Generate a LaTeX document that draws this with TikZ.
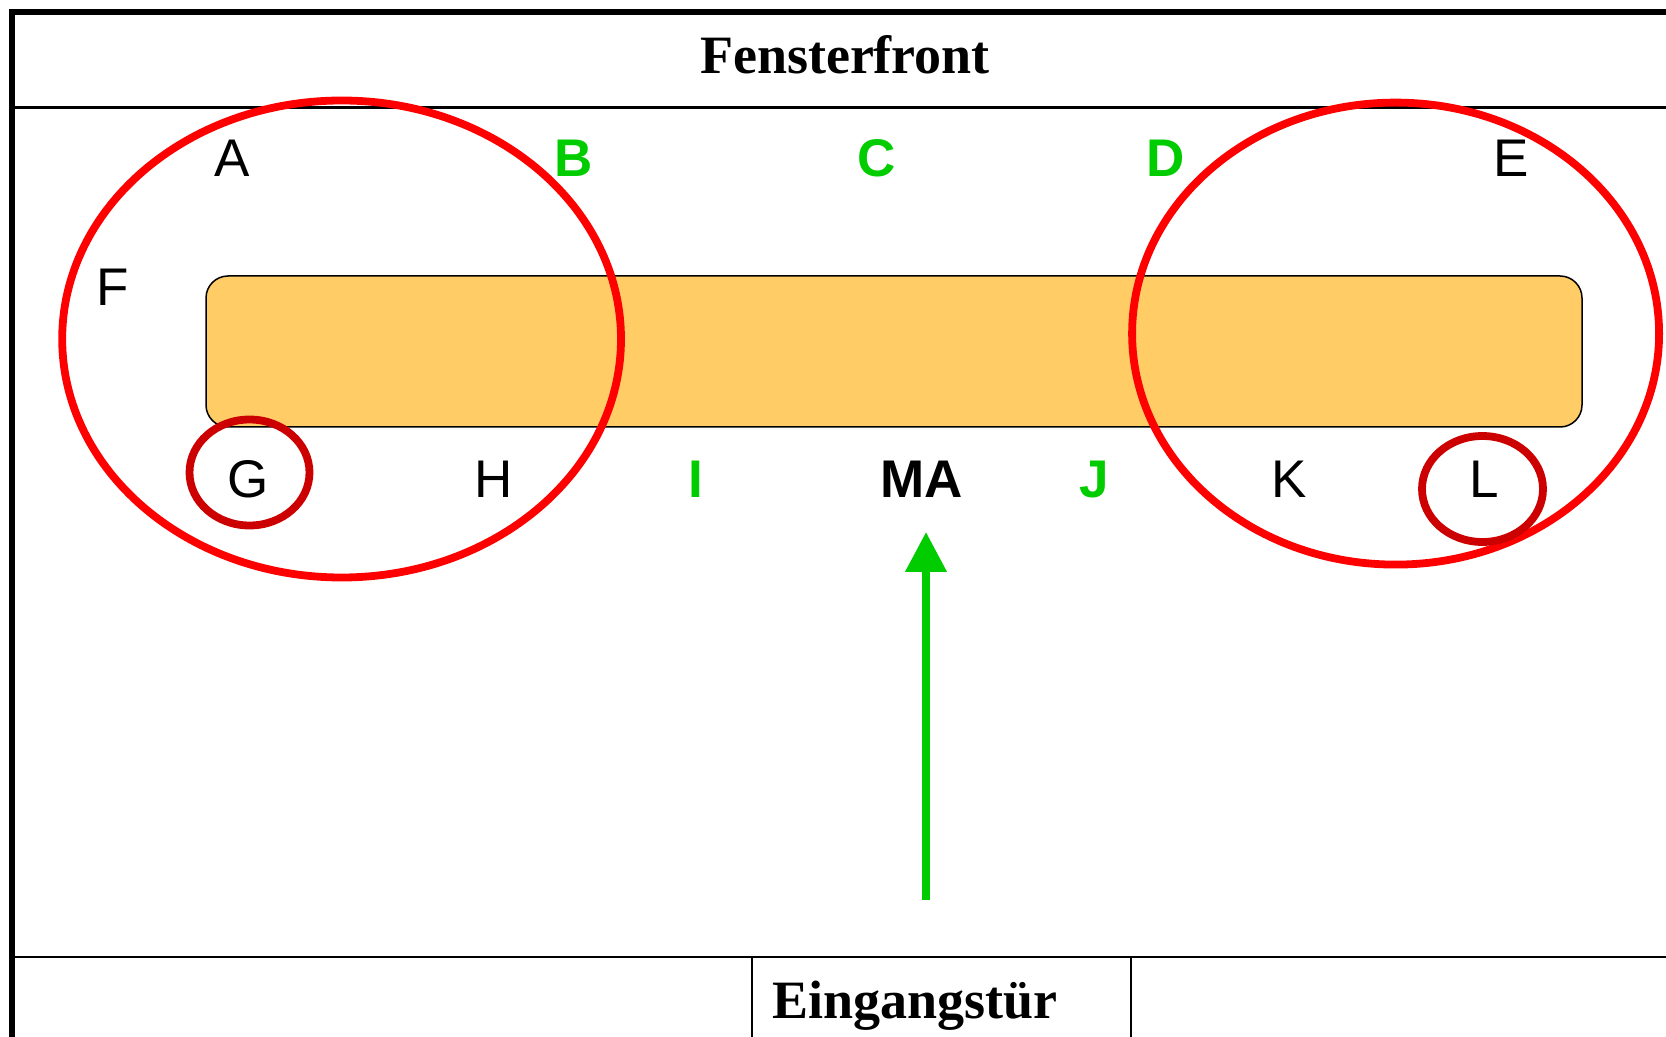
\documentclass[tikz,border=0pt]{standalone}
\usepackage{fontspec}
\setmainfont{Liberation Serif}
\setsansfont{Liberation Sans}
\usetikzlibrary{shapes.geometric,arrows.meta}
\definecolor{tablefill}{RGB}{255,204,102}
\definecolor{zonered}{RGB}{255,0,0}
\definecolor{seatred}{RGB}{204,0,0}
\definecolor{mark}{RGB}{0,204,0}
\tikzset{
  frameline/.style={line width=2.75pt},
  thinline/.style={line width=1.3pt},
  heading/.style={font=\fontsize{27}{30}\selectfont\rmfamily\bfseries, anchor=base, inner sep=0pt},
  seat/.style={font=\fontsize{26.5}{30}\selectfont\sffamily, anchor=base, inner sep=0pt},
  keyseat/.style={seat, font=\fontsize{26.5}{30}\selectfont\sffamily\bfseries, text=mark},
  table/.style={draw=black, line width=0.75pt, fill=tablefill, rounded corners=11pt,
    inner sep=0pt, minimum width=688pt, minimum height=75.5pt},
  zone/.style={ellipse, draw=zonered, line width=3.9pt, inner sep=0pt},
  single/.style={ellipse, draw=seatred, line width=3.9pt, inner sep=0pt},
  entry/.style={draw=mark, line width=3.8pt, -{Triangle[width=20pt,length=20pt]}}
}
\begin{document}
\begin{tikzpicture}[x=0.5pt, y=-0.5pt]
  \useasboundingbox (0,0) rectangle (1666,1037);

  % room outline
  \draw[frameline, line join=miter] (1666,12) -- (12,12) -- (12,1037);
  \draw[thinline] (12,107.5) -- (1666,107.5);
  \draw[thinline] (12,957) -- (1666,957);
  \draw[thinline] (752,957) -- (752,1037);
  \draw[thinline] (1131,957) -- (1131,1037);

  \node[heading] (window) at (845,74) {Fensterfront};
  \node[heading] (door) at (915,1018) {Eingangstür};

  % conference table
  \node[table] (tbl) at (894,351.5) {};

  % groups of seats
  \node[zone, minimum width=279.4pt, minimum height=238.5pt] (leftzone) at (341.6,339) {};
  \node[zone, minimum width=263.5pt, minimum height=231pt] (rightzone) at (1395.6,333.6) {};
  \node[single, minimum width=60pt, minimum height=53pt] (ringG) at (249.5,472.5) {};
  \node[single, minimum width=60.5pt, minimum height=53pt] (ringL) at (1482.5,489) {};

  % seats along the window side
  \node[seat] (A) at (232,177) {A};
  \node[keyseat] (B) at (574,177) {B};
  \node[keyseat] (C) at (877,177) {C};
  \node[keyseat] (D) at (1166,177) {D};
  \node[seat] (E) at (1511,177) {E};
  \node[seat] (F) at (113,305.5) {F};

  % seats along the door side
  \node[seat] (G) at (248,498) {G};
  \node[seat] (H) at (494,498) {H};
  \node[keyseat] (I) at (696,498) {I};
  \node[seat, font=\fontsize{26.5}{30}\selectfont\sffamily\bfseries] (MA) at (922,498) {MA};
  \node[keyseat] (J) at (1094,498) {J};
  \node[seat] (K) at (1289,498) {K};
  \node[seat] (L) at (1484,498) {L};

  % way in from the door
  \coordinate (entrystart) at (926,900);
  \coordinate (entrytip) at (926,532);
  \draw[entry] (entrystart) -- (entrytip);
\end{tikzpicture}
\end{document}
